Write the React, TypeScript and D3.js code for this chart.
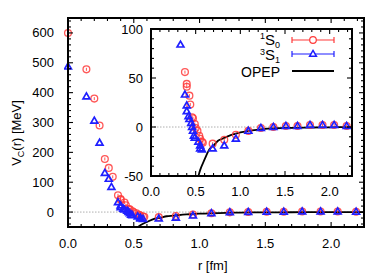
import React from "react";
import * as d3 from "d3";

// 1S0 channel (red circles)
const r1S0 = [0.0, 0.14, 0.2, 0.24, 0.28, 0.31, 0.34, 0.38, 0.4, 0.4, 0.43, 0.44, 0.46, 0.47, 0.49, 0.5, 0.52, 0.54, 0.55, 0.57, 0.58, 0.69, 0.82, 0.95, 1.09, 1.23, 1.37, 1.51, 1.64, 1.78, 1.92, 2.05, 2.19];
const v1S0 = [600, 478, 380, 290, 178, 148, 118, 56, 44, 41, 32, 23, 10, 9, 3, -1, -4, -9, -12, -15, -16, -17, -13, -8, -4, -1, 0, 1, 1, 2, 2, 2, 1];

// 3S1 channel (blue triangles)
const r3S1 = [0.0, 0.14, 0.2, 0.24, 0.28, 0.31, 0.33, 0.38, 0.4, 0.4, 0.42, 0.43, 0.45, 0.46, 0.47, 0.48, 0.49, 0.53, 0.55, 0.55, 0.57, 0.69, 0.82, 0.95, 1.09, 1.23, 1.37, 1.51, 1.64, 1.78, 1.92, 2.05, 2.19];
const v3S1 = [487, 387, 306, 232, 131, 111, 84, 33, 22, 16, 11, 8, 4, 0, -4, -9, -11, -15, -19, -22, -23, -22, -19, -12, -4, -1, 0, 1, 1, 2, 2, 2, 1];

// OPEP curve
const rOpep = [0.48, 0.53, 0.55, 0.6, 0.66, 0.7, 0.75, 0.8, 0.9, 0.94, 1.0, 1.09, 1.2, 1.31, 1.4, 1.5, 1.6, 1.8, 2.0, 2.25];
const vOpep = [-62, -50, -44, -33, -22, -19, -14, -12, -8, -7, -5.5, -4, -2.7, -1.6, -1.3, -1, -0.8, -0.5, -0.3, -0.15];

const xMajor = [0, 0.5, 1.0, 1.5, 2.0];
const yMajorMain = [0, 100, 200, 300, 400, 500, 600];
const yMajorInset = [-50, 0, 50, 100];

const RED = "#ff3a3a";
const BLUE = "#1f1fff";
const FONT = "'Liberation Sans', Arial, Helvetica, sans-serif";

const fmtX = (d: number) => d.toFixed(1);

type Frame = {
  x: d3.ScaleLinear<number, number>;
  y: d3.ScaleLinear<number, number>;
  id: string;
};

const triangle = (cx: number, cy: number, s: number) =>
  `M${cx},${cy - s}L${cx + s * 0.95},${cy + s * 0.65}L${cx - s * 0.95},${cy + s * 0.65}Z`;

const Points: React.FC<{ f: Frame }> = ({ f }) => (
  <g clipPath={`url(#${f.id})`}>
    {r1S0.map((r, i) => {
      const cx = f.x(r);
      const cy = f.y(v1S0[i]);
      return (
        <g key={"c" + i} stroke={RED} opacity={0.85}>
          <circle cx={cx} cy={cy} r={3.4} fill="none" strokeWidth={1.3} />
          <line x1={cx} x2={cx} y1={cy - 1.5} y2={cy + 1.5} strokeWidth={1} />
        </g>
      );
    })}
    {r3S1.map((r, i) => (
      <path
        key={"t" + i}
        d={triangle(f.x(r), f.y(v3S1[i]), 3.6)}
        fill="none"
        stroke={BLUE}
        strokeWidth={1.7}
      />
    ))}
  </g>
);

const Opep: React.FC<{ f: Frame }> = ({ f }) => {
  const line = d3
    .line<number>()
    .x((d, i) => f.x(rOpep[i]))
    .y((d) => f.y(d))
    .curve(d3.curveMonotoneX);
  return (
    <path
      d={line(vOpep) || ""}
      fill="none"
      stroke="#000"
      strokeWidth={1.8}
      clipPath={`url(#${f.id})`}
    />
  );
};

const Ticks: React.FC<{
  f: Frame;
  xMinor: number[];
  yMinor: number[];
  xMaj: number[];
  yMaj: number[];
}> = ({ f, xMinor, yMinor, xMaj, yMaj }) => {
  const [x0, x1] = f.x.range();
  const [y0, y1] = f.y.range();
  const out: JSX.Element[] = [];
  xMinor.forEach((t, i) => {
    const isMaj = xMaj.some((m) => Math.abs(m - t) < 1e-6);
    const len = isMaj ? 5 : 3;
    const px = f.x(t);
    out.push(<line key={"xb" + i} x1={px} x2={px} y1={y0} y2={y0 - len} />);
    out.push(<line key={"xt" + i} x1={px} x2={px} y1={y1} y2={y1 + len} />);
  });
  yMinor.forEach((t, i) => {
    const isMaj = yMaj.some((m) => Math.abs(m - t) < 1e-6);
    const len = isMaj ? 5 : 3;
    const py = f.y(t);
    out.push(<line key={"yl" + i} x1={x0} x2={x0 + len} y1={py} y2={py} />);
    out.push(<line key={"yr" + i} x1={x1} x2={x1 - len} y1={py} y2={py} />);
  });
  return (
    <g stroke="#000" strokeWidth={1.1}>
      {out}
    </g>
  );
};

export default function App() {
  const W = 389;
  const H = 273;

  const main: Frame = {
    x: d3.scaleLinear().domain([0, 2.25]).range([68, 364]),
    y: d3.scaleLinear().domain([-50, 650]).range([227, 18]),
    id: "clipMain",
  };
  const inset: Frame = {
    x: d3.scaleLinear().domain([0, 2.25]).range([151, 352]),
    y: d3.scaleLinear().domain([-50, 100]).range([176, 29]),
    id: "clipInset",
  };

  const xMinorTicks = d3.range(0, 2.2501, 0.1).map((d) => +d.toFixed(2));
  const yMinorMain = d3.range(-40, 651, 20);
  const yMinorInset = d3.range(-50, 101, 10);

  const frameRect = (f: Frame) => {
    const [x0, x1] = f.x.range();
    const [y0, y1] = f.y.range();
    return { x: x0, y: y1, width: x1 - x0, height: y0 - y1 };
  };
  const mr = frameRect(main);
  const ir = frameRect(inset);

  return (
    <svg
      width={W}
      height={H}
      style={{ position: "absolute", left: 0, top: 0, background: "#fff" }}
      fontFamily={FONT}
    >
      <defs>
        <clipPath id="clipMain">
          <rect x={mr.x - 4} y={mr.y - 4} width={mr.width + 8} height={mr.height + 4} />
        </clipPath>
        <clipPath id="clipInset">
          <rect x={ir.x} y={ir.y - 4} width={ir.width + 4} height={ir.height + 4} />
        </clipPath>
      </defs>

      {/* main plot */}
      <line
        x1={mr.x}
        x2={mr.x + mr.width}
        y1={main.y(0)}
        y2={main.y(0)}
        stroke="#999"
        strokeWidth={0.8}
        strokeDasharray="1.5,1.5"
      />
      <Opep f={main} />
      <Points f={main} />
      <Ticks f={main} xMinor={xMinorTicks} yMinor={yMinorMain} xMaj={xMajor} yMaj={yMajorMain} />
      <rect {...mr} fill="none" stroke="#000" strokeWidth={2} />

      {xMajor.map((t) => (
        <text key={"mx" + t} x={main.x(t)} y={248} fontSize={13} textAnchor="middle">
          {fmtX(t)}
        </text>
      ))}
      {yMajorMain.map((t) => (
        <text key={"my" + t} x={54} y={main.y(t) + 4.5} fontSize={13} textAnchor="end">
          {t}
        </text>
      ))}
      <text x={main.x(1.1)} y={270} fontSize={13} textAnchor="middle">
        r [fm]
      </text>
      <text transform="translate(21,133) rotate(-90)" fontSize={13} textAnchor="middle">
        V<tspan fontSize={9} dy={3}>C</tspan>
        <tspan dy={-3}>(r) [MeV]</tspan>
      </text>

      {/* inset */}
      <rect {...ir} fill="#fff" />
      <line
        x1={ir.x}
        x2={ir.x + ir.width}
        y1={inset.y(0)}
        y2={inset.y(0)}
        stroke="#999"
        strokeWidth={0.8}
        strokeDasharray="1.5,1.5"
      />
      <Opep f={inset} />
      <Points f={inset} />
      <Ticks f={inset} xMinor={xMinorTicks} yMinor={yMinorInset} xMaj={xMajor} yMaj={yMajorInset} />
      <rect {...ir} fill="none" stroke="#000" strokeWidth={2} />
      {xMajor.map((t) => (
        <text key={"ix" + t} x={inset.x(t)} y={196} fontSize={13} textAnchor="middle">
          {fmtX(t)}
        </text>
      ))}
      {yMajorInset.map((t) => (
        <text key={"iy" + t} x={143} y={inset.y(t) + 4.5} fontSize={13} textAnchor="end">
          {t}
        </text>
      ))}

      {/* legend */}
      <g>
        <text x={280} y={45} fontSize={15} textAnchor="end">
          <tspan fontSize={9} dy={-6}>1</tspan>
          <tspan dy={6}>S</tspan>
          <tspan fontSize={9} dy={2.5}>0</tspan>
        </text>
        <g stroke={RED} strokeWidth={1.2}>
          <line x1={292} x2={334} y1={40} y2={40} />
          <line x1={292} x2={292} y1={37} y2={43} />
          <line x1={334} x2={334} y1={37} y2={43} />
          <circle cx={313} cy={40} r={3.3} fill="#fff" />
        </g>
        <text x={280} y={60} fontSize={15} textAnchor="end">
          <tspan fontSize={9} dy={-5.5}>3</tspan>
          <tspan dy={5.5}>S</tspan>
          <tspan fontSize={9} dy={2.5}>1</tspan>
        </text>
        <g stroke={BLUE} strokeWidth={1.2}>
          <line x1={292} x2={334} y1={54} y2={54} />
          <line x1={292} x2={292} y1={51} y2={57} />
          <line x1={334} x2={334} y1={51} y2={57} />
          <path d={triangle(313, 54, 3.6)} fill="#fff" strokeWidth={1.5} />
        </g>
        <text x={280} y={77} fontSize={14} textAnchor="end">
          OPEP
        </text>
        <line x1={292} x2={334} y1={71} y2={71} stroke="#000" strokeWidth={1.8} />
      </g>
    </svg>
  );
}
